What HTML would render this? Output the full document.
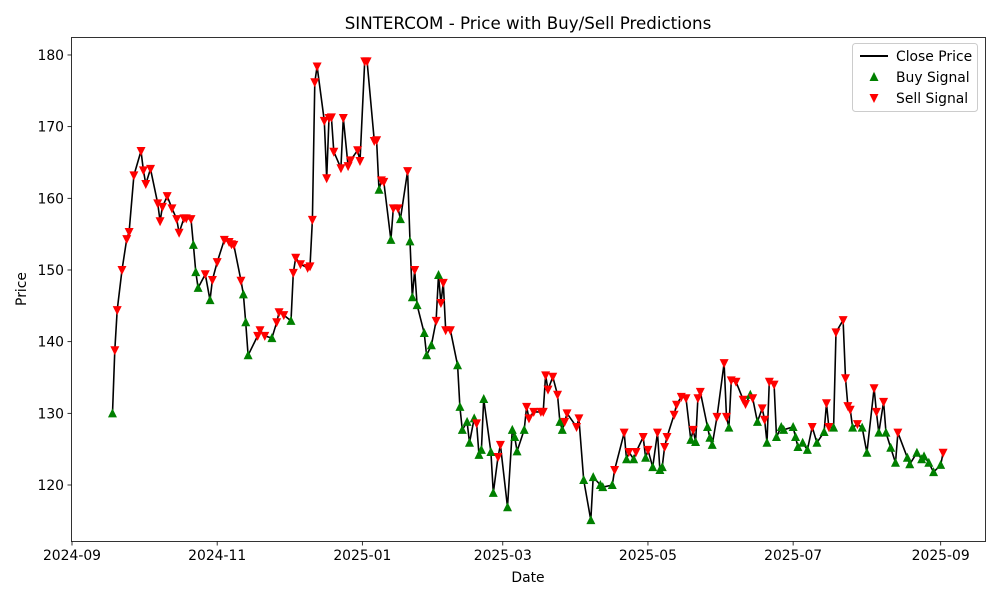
<!DOCTYPE html>
<html><head><meta charset="utf-8"><style>
body{margin:0;background:#fff;}
svg{display:block;font-family:"DejaVu Sans","Liberation Sans",sans-serif;}
</style></head><body>
<svg id="chart" width="1000" height="600" viewBox="0 0 1000 600" xmlns="http://www.w3.org/2000/svg">
<rect width="1000" height="600" fill="#fff"/>
<text x="528" y="29" text-anchor="middle" font-size="16.7">SINTERCOM - Price with Buy/Sell Predictions</text>
<text x="528" y="582" text-anchor="middle" font-size="13.9">Date</text>
<text transform="translate(26,289) rotate(-90)" text-anchor="middle" font-size="13.9">Price</text>
<g id="grid"></g>
<g id="series"></g>
<rect x="71.5" y="37.5" width="914" height="504" fill="none" stroke="#000" stroke-width="0.8"/>
<g>
<rect x="852.5" y="43.5" width="125" height="68" rx="3" fill="#fff" fill-opacity="0.8" stroke="#ccc"/>
<line x1="860" y1="56" x2="888" y2="56" stroke="#000" stroke-width="2"/>
<text x="896" y="61" font-size="13.9">Close Price</text>
<polygon points="874,72 878.5,81 869.5,81" fill="green"/>
<text x="896" y="82" font-size="13.9">Buy Signal</text>
<polygon points="869.5,94 878.5,94 874,103" fill="red"/>
<text x="896" y="103" font-size="13.9">Sell Signal</text>
</g>
</svg>
<script>
// days since 2024-09-01
const dayOffsets=[17,18,19,21,23,24,26,29,30,31,33,36,37,38,40,42,44,45,47,48,50,51,52,53,56,58,59,61,64,66,67,68,71,72,73,74,78,79,81,84,86,87,89,92,93,94,96,99,100,101,102,103,106,107,108,109,110,113,114,116,117,120,121,123,124,127,128,129,130,131,134,135,137,138,141,142,143,144,145,148,149,151,153,154,155,156,157,159,162,163,164,166,167,169,170,171,172,173,176,177,179,180,183,185,186,187,190,191,192,194,197,198,199,200,202,204,205,206,207,208,212,213,215,218,219,222,223,227,228,232,233,234,236,237,240,241,242,244,246,247,248,249,250,253,254,256,258,260,261,262,263,264,267,268,269,271,274,275,276,277,279,282,283,285,286,288,290,291,292,293,295,296,298,299,303,304,305,307,309,311,313,316,317,318,320,321,324,325,326,327,328,330,332,334,337,338,339,341,342,344,346,347,351,352,355,357,358,360,362,365,366];
const closePrices=[130.0,138.8,144.4,150.0,154.3,155.3,163.2,166.6,163.9,162.0,164.1,159.3,156.8,158.8,160.3,158.6,157.1,155.2,157.2,157.2,157.1,153.5,149.7,147.5,149.4,145.8,148.6,151.1,154.2,153.9,153.6,153.5,148.5,146.6,142.7,138.1,140.8,141.6,140.8,140.5,142.7,144.1,143.7,142.9,149.6,151.7,150.8,150.3,150.5,157.0,176.2,178.4,170.8,162.8,171.2,171.3,166.5,164.2,171.2,164.5,165.3,166.7,165.2,179.1,179.1,168.0,168.1,161.2,162.5,162.3,154.2,158.6,158.6,157.1,163.8,154.0,146.2,150.0,145.1,141.2,138.1,139.5,142.9,149.3,145.4,148.2,141.6,141.6,136.7,130.9,127.7,128.8,125.9,129.3,128.6,124.2,124.9,132.0,124.6,118.9,123.9,125.6,116.9,127.7,126.7,124.7,127.7,130.9,129.3,130.2,130.2,130.2,135.3,133.3,135.1,132.6,128.8,127.7,128.8,130.0,128.1,129.3,120.7,115.1,121.1,120.0,119.7,120.0,122.1,127.3,123.6,124.6,123.6,124.6,126.7,123.8,124.9,122.5,127.3,122.1,122.5,125.3,126.7,129.8,131.2,132.3,132.1,126.3,127.7,126.0,132.1,133.0,128.1,126.6,125.6,129.5,137.0,129.5,128.0,134.6,134.4,131.9,131.3,132.6,132.1,128.8,130.7,129.1,125.9,134.4,134.0,126.7,128.1,127.7,128.1,126.7,125.3,125.9,124.9,128.1,125.9,127.4,131.4,128.1,128.0,141.3,143.0,134.9,131.0,130.5,128.0,128.5,128.0,124.5,133.5,130.2,127.3,131.6,127.3,125.2,123.1,127.3,123.8,122.9,124.5,123.6,124.0,123.1,121.8,122.8,124.5];
const signals=("B SSSSSSSSSSSSSSSSSSSS BBB S B SSSSSSS BBB SSS B SSS B SSSSSSSSSSSSSSSSSSSSSSS "+
"BSSBSSBSBBSBBBBSBSSSSBBBBBBSBBBBBSSBBBBBSSSSSSSSSBBSSSSBBBBBBSSBSBSSBSBSBBSSSSSSBSBSSBBBSSSBSSSSBSBSSBSSBBBBBBBBSBBSSBSSSSSBSBBSSBSBBBSBBBBBBBBS").replace(/ /g,"").split("");
const yTicks=[120,130,140,150,160,170,180];
const xTickDays=[0,61,122,181,242,303,365];
const xTickLabels=["2024-09","2024-11","2025-01","2025-03","2025-05","2025-07","2025-09"];

const NS="http://www.w3.org/2000/svg";
const xS=d=>72+d*2.38;
const yS=v=>485-(v-120)*7.167;
function mk(tag,attrs,parent){const e=document.createElementNS(NS,tag);for(const k in attrs)e.setAttribute(k,attrs[k]);parent.appendChild(e);return e;}
const grid=document.getElementById('grid');
yTicks.forEach(v=>{
  const y=yS(v);
  const t=mk('line',{x1:67.5,x2:71.5,y1:y,y2:y,stroke:'#000','stroke-width':0.8},grid);
  
  
  const l=mk('text',{x:64,y:y+5,'text-anchor':'end','font-size':13.9},grid);
  l.textContent=v;
  
  
});
xTickDays.forEach((d,i)=>{
  const x=xS(d);
  const t=mk('line',{x1:x,x2:x,y1:541.5,y2:545.5,stroke:'#000','stroke-width':0.8},grid);
  
  
  const l=mk('text',{x:x,y:560,'text-anchor':'middle','font-size':13.9},grid);
  l.textContent=xTickLabels[i];
  
  
});
const ser=document.getElementById('series');
const n=Math.min(dayOffsets.length,closePrices.length);
let pts=[];
for(let i=0;i<n;i++)pts.push(xS(dayOffsets[i]).toFixed(1)+','+yS(closePrices[i]).toFixed(1));
const line=mk('polyline',{points:pts.join(' '),fill:'none',stroke:'#000','stroke-width':1.6,'stroke-linejoin':'round'},ser);


for(let i=0;i<n;i++){
  const x=xS(dayOffsets[i]),y=yS(closePrices[i]);
  let p;
  if(signals[i]==='B'){
    p=mk('polygon',{points:`${x},${y-5} ${x+4.5},${y+4} ${x-4.5},${y+4}`,fill:'green'},ser);
    
  }else{
    p=mk('polygon',{points:`${x-4.5},${y-4} ${x+4.5},${y-4} ${x},${y+5}`,fill:'red'},ser);
    
  }
  
}
</script>
</body></html>
